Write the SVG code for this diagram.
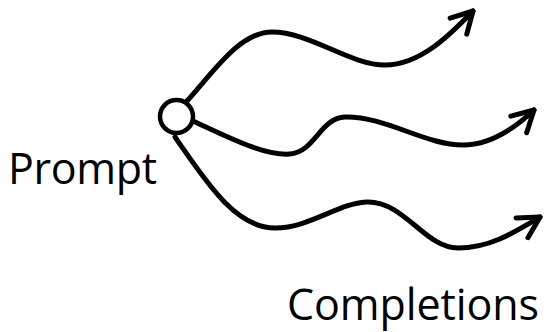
<svg xmlns="http://www.w3.org/2000/svg" width="548" height="332" viewBox="0 0 548 332">
<style>
.wire{fill:none;stroke:#000;stroke-width:5;stroke-linecap:round;stroke-linejoin:round}
.lbl{font-family:"Open Sans","Noto Sans",sans-serif;font-size:43px;fill:#000}
</style>
<defs>
<marker id="arr" markerUnits="userSpaceOnUse" markerWidth="40" markerHeight="40" viewBox="-30 -20 40 40" refX="0" refY="0" orient="auto" overflow="visible">
<path d="M-21,-11.5 L0,0 L-21,11.5" fill="none" stroke="#000" stroke-width="5" stroke-linecap="round" stroke-linejoin="round"/>
</marker>
</defs>
<rect width="548" height="332" fill="#fff"/>
<g id="connectors">
<path class="wire" marker-end="url(#arr)" d="M187,101 C215,70 240,32 272,32 C310,32 350,65 385,65 C420,65 450,35 473,11"/>
<path class="wire" marker-end="url(#arr)" d="M193,121 C230,138 265,156 290,154 C315,152 320,118 345,117 C385,116 425,145 463,145 C490,145 515,128 534,110"/>
<path class="wire" marker-end="url(#arr)" d="M175,137 C205,180 235,228 275,228 C310,228 340,202 368,202 C405,202 425,248 458,248 C490,248 515,232 540,217"/>
</g>
<g id="prompt-node">
<circle cx="176.5" cy="116.5" r="16.5" fill="#fff" stroke="#000" stroke-width="4.5"/>
</g>
<g id="prompt-label"><text class="lbl" x="8" y="184" textLength="149">Prompt</text></g>
<g id="completions-label"><text class="lbl" x="287" y="320" textLength="252">Completions</text></g>
</svg>
